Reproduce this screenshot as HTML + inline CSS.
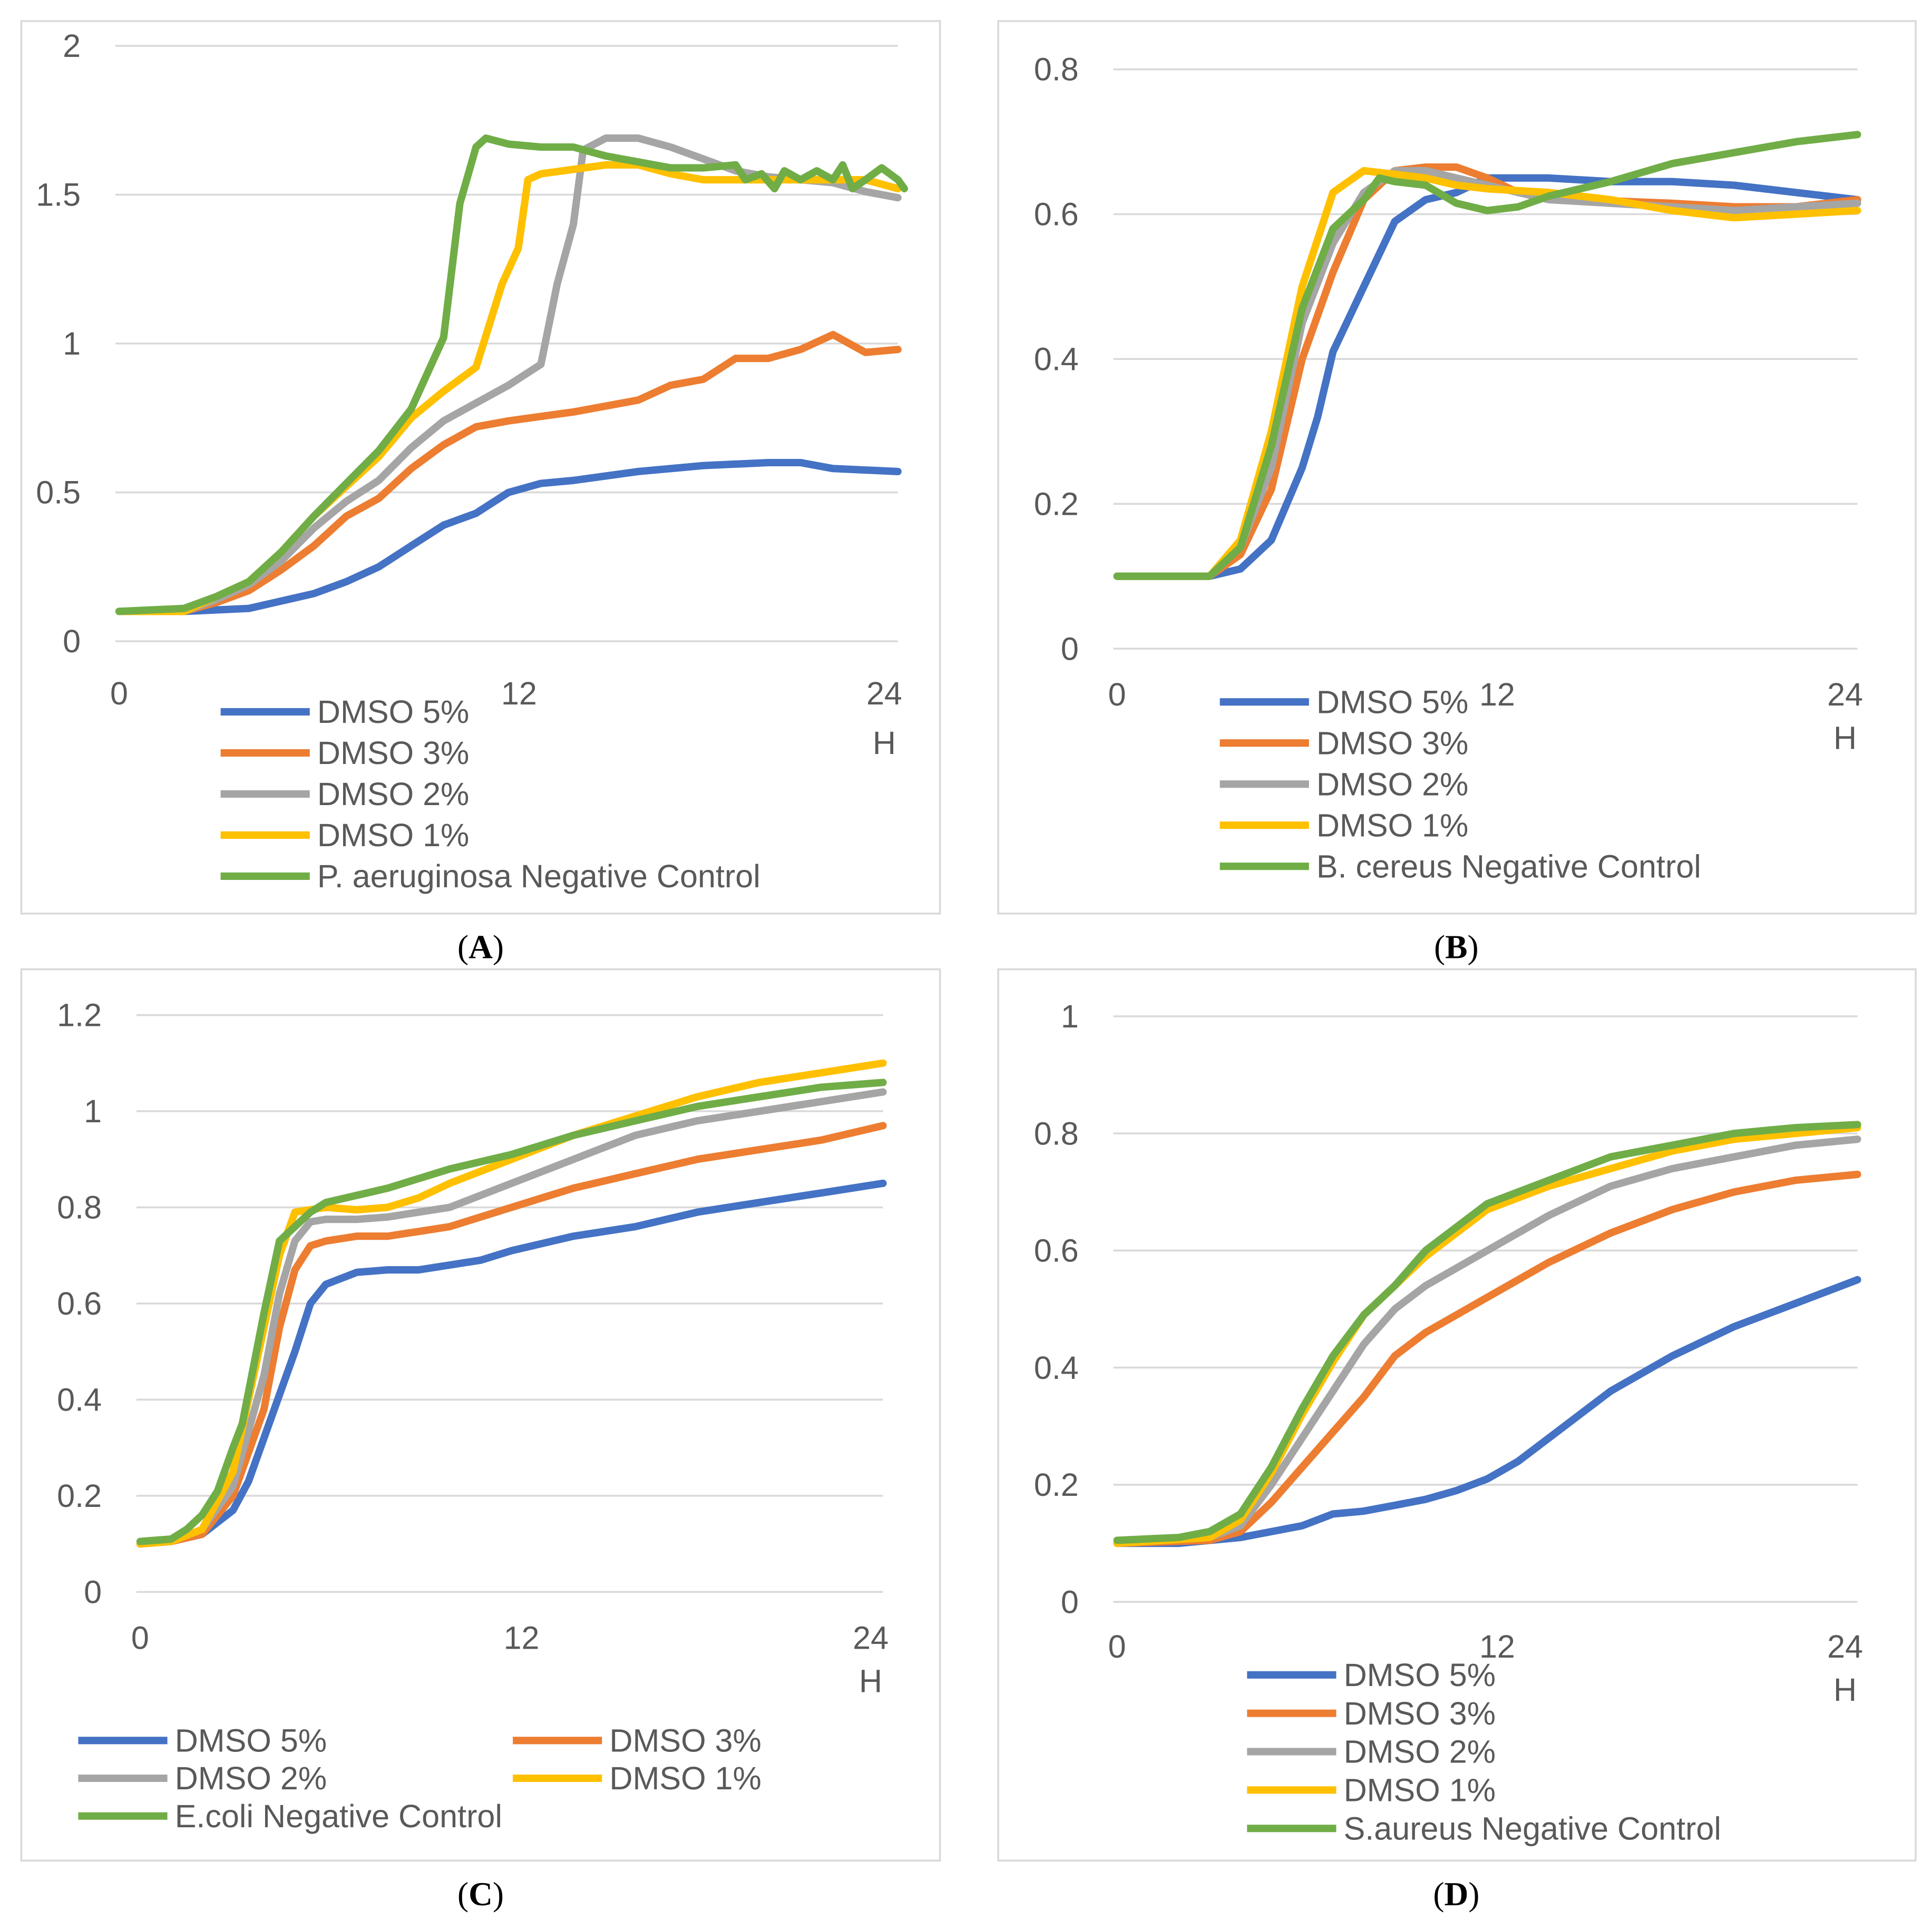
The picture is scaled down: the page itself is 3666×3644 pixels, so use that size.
<!DOCTYPE html>
<html><head><meta charset="utf-8"><style>
html,body{margin:0;padding:0;background:#fff}
svg{display:block}
text{font-family:"Liberation Sans",sans-serif;fill:#595959}
</style></head><body>
<svg id="s" width="3666" height="3644" viewBox="0 0 1560 1551" xmlns="http://www.w3.org/2000/svg"></svg>
<script>
const colors=["#4472C4","#ED7D31","#A5A5A5","#FFC000","#70AD47"];
const seriesNames=["DMSO 5%","DMSO 3%","DMSO 2%","DMSO 1%"];
const xTicks=[0,12,24];
// Panel A
const aYTicks=[0,0.5,1,1.5,2];
const aT5=[0,2,4,6,7,8,9,10,11,12,13,14,16,18,20,21,22,24];
const aV5=[.1,.1,.11,.16,.2,.25,.32,.39,.43,.5,.53,.54,.57,.59,.6,.6,.58,.57];
const aT3=[0,2,3,4,5,6,7,8,9,10,11,12,14,16,17,18,19,20,21,22,23,24];
const aV3=[.1,.1,.13,.17,.24,.32,.42,.48,.58,.66,.72,.74,.77,.81,.86,.88,.95,.95,.98,1.03,.97,.98];
const aT2=[0,2,3,4,5,6,7,8,9,10,11,12,13,13.5,14,14.3,15,16,17,18,19,20,21,22,23,24];
const aV2=[.1,.1,.14,.19,.27,.38,.47,.54,.65,.74,.8,.86,.93,1.2,1.4,1.65,1.69,1.69,1.66,1.62,1.58,1.56,1.55,1.54,1.51,1.49];
const aT1=[0,2,3,4,5,6,7,8,9,10,11,11.8,12.3,12.6,13,15,16,17,18,20,22,23,24];
const aV1=[.1,.1,.15,.2,.3,.42,.52,.62,.75,.84,.92,1.2,1.32,1.55,1.57,1.6,1.6,1.57,1.55,1.55,1.55,1.55,1.52];
const aTc=[0,2,3,4,5,6,7,8,9,9.5,10,10.5,11,11.3,12,13,14,15,16,17,18,19,19.3,19.8,20.2,20.5,21,21.5,22,22.3,22.6,23,23.5,24,24.2];
const aVc=[.1,.11,.15,.2,.3,.42,.53,.64,.78,.9,1.02,1.47,1.66,1.69,1.67,1.66,1.66,1.63,1.61,1.59,1.59,1.6,1.55,1.57,1.52,1.58,1.55,1.58,1.55,1.6,1.52,1.55,1.59,1.55,1.52];
// Panel B
const bYTicks=[0,0.2,0.4,0.6,0.8];
const bT5=[0,3,4,5,6,6.5,7,8,9,10,11,12,14,16,18,20,22,24];
const bV5=[.1,.1,.11,.15,.25,.32,.41,.5,.59,.62,.63,.65,.65,.645,.645,.64,.63,.62];
const bT3=[0,3,4,5,6,7,8,9,10,11,12,13,15,18,20,22,24];
const bV3=[.1,.1,.13,.22,.4,.52,.62,.66,.665,.665,.65,.63,.62,.615,.61,.61,.62];
const bT2=[0,3,4,5,6,7,8,9,10,11,12,14,16,18,20,22,24];
const bV2=[.1,.1,.14,.25,.45,.56,.63,.66,.66,.65,.64,.62,.615,.61,.605,.61,.615];
const bT1=[0,3,4,5,6,7,8,9,10,11,12,14,16,18,20,22,24];
const bV1=[.1,.1,.15,.3,.5,.63,.66,.655,.65,.64,.635,.63,.62,.605,.595,.6,.605];
const bTc=[0,3,4,5,6,7,8,8.5,9,10,11,12,13,14,16,18,20,22,24];
const bVc=[.1,.1,.14,.28,.47,.58,.62,.65,.645,.64,.615,.605,.61,.625,.645,.67,.685,.7,.71];
// Panel C
const cYTicks=[0,0.2,0.4,0.6,0.8,1,1.2];
const cT5=[0,1,2,3,3.5,4,5,5.5,6,7,8,9,10,11,12,14,16,18,20,22,24];
const cV5=[.1,.105,.12,.17,.23,.32,.5,.6,.64,.665,.67,.67,.68,.69,.71,.74,.76,.79,.81,.83,.85];
const cT3=[0,1,2,3,4,4.5,5,5.5,6,7,8,9,10,12,14,16,18,20,22,24];
const cV3=[.1,.105,.12,.2,.38,.55,.67,.72,.73,.74,.74,.75,.76,.8,.84,.87,.9,.92,.94,.97];
const cT2=[0,1,2,3,4,4.5,5,5.5,6,7,8,9,10,12,14,16,18,20,22,24];
const cV2=[.1,.105,.13,.22,.45,.62,.73,.77,.775,.775,.78,.79,.8,.85,.9,.95,.98,1.0,1.02,1.04];
const cT1=[0,1,2,3,4,4.5,5,6,7,8,9,10,12,14,16,18,20,22,24];
const cV1=[.1,.105,.13,.25,.55,.7,.79,.8,.795,.8,.82,.85,.9,.95,.99,1.03,1.06,1.08,1.1];
const cTc=[0,1,1.5,2,2.5,3,3.3,4,4.5,5,5.5,6,8,10,12,14,16,18,20,22,24];
const cVc=[.105,.11,.13,.16,.21,.3,.35,.58,.73,.76,.79,.81,.84,.88,.91,.95,.98,1.01,1.03,1.05,1.06];
// Panel D
const dYTicks=[0,0.2,0.4,0.6,0.8,1];
const dT5=[0,2,4,6,7,8,9,10,11,12,13,14,15,16,18,20,22,24];
const dV5=[.1,.1,.11,.13,.15,.155,.165,.175,.19,.21,.24,.28,.32,.36,.42,.47,.51,.55];
const dT3=[0,3,4,5,6,7,8,9,10,11,12,14,16,18,20,22,24];
const dV3=[.1,.105,.12,.17,.23,.29,.35,.42,.46,.49,.52,.58,.63,.67,.7,.72,.73];
const dT2=[0,3,4,5,6,7,8,9,10,11,12,14,16,18,20,22,24];
const dV2=[.1,.11,.13,.2,.28,.36,.44,.5,.54,.57,.6,.66,.71,.74,.76,.78,.79];
const dT1=[0,3,4,5,6,7,8,9,10,11,12,14,16,18,20,22,24];
const dV1=[.1,.11,.14,.22,.32,.41,.49,.54,.59,.63,.67,.71,.74,.77,.79,.8,.81];
const dTc=[0,2,3,4,5,6,7,8,9,10,11,12,14,16,18,20,22,24];
const dVc=[.105,.11,.12,.15,.23,.33,.42,.49,.54,.6,.64,.68,.72,.76,.78,.8,.81,.815];

const NS="http://www.w3.org/2000/svg";
const svg=document.getElementById('s');
function mk(tag,attrs,parent,txt){const e=document.createElementNS(NS,tag);for(const k in attrs)e.setAttribute(k,attrs[k]);if(txt!==undefined)e.textContent=txt;(parent||svg).appendChild(e);return e;}

const panels=[
 {id:'a',box:[17,17,742,721],x0:96,x1:725,y0:518,y1:37,ymax:2,yt:aYTicks,gx0:93,
  data:[[aT5,aV5],[aT3,aV3],[aT2,aV2],[aT1,aV1],[aTc,aVc]],ctrl:"P. aeruginosa Negative Control",
  leg:{type:'col',x:178,y:575,dy:33.2},H:[714,609],xl:[96,419,714],xly:569,cap:'A',capx:388,capy:774},
 {id:'b',box:[806,17,741,721],x0:902,x1:1500,y0:524,y1:56,ymax:0.8,yt:bYTicks,gx0:899,
  data:[[bT5,bV5],[bT3,bV3],[bT2,bV2],[bT1,bV1],[bTc,bVc]],ctrl:"B. cereus Negative Control",
  leg:{type:'col',x:985,y:567,dy:33.2},H:[1490,605],xl:[902,1209,1490],xly:570,cap:'B',capx:1176,capy:774},
 {id:'c',box:[17,783,742,720],x0:113,x1:713,y0:1286,y1:820,ymax:1.2,yt:cYTicks,gx0:110,
  data:[[cT5,cV5],[cT3,cV3],[cT2,cV2],[cT1,cV1],[cTc,cVc]],ctrl:"E.coli Negative Control",
  leg:{type:'grid',x:63,x2:414,y:1406,dy:30.5},H:[703,1367],xl:[113,421,703],xly:1332,cap:'C',capx:388,capy:1539},
 {id:'d',box:[806,783,741,720],x0:902,x1:1500,y0:1294,y1:821,ymax:1,yt:dYTicks,gx0:899,
  data:[[dT5,dV5],[dT3,dV3],[dT2,dV2],[dT1,dV1],[dTc,dVc]],ctrl:"S.aureus Negative Control",
  leg:{type:'col',x:1007,y:1353,dy:31},H:[1490,1374],xl:[902,1209,1490],xly:1339,cap:'D',capx:1176,capy:1539}
];

panels.forEach(p=>{
 const g=mk('g',{});
 
 
 const r=mk('rect',{x:p.box[0],y:p.box[1],width:p.box[2],height:p.box[3],fill:'#fff',stroke:'#d9d9d9','stroke-width':1.5},g);
 
 
 const X=t=>p.x0+t*(p.x1-p.x0)/24;
 const Y=v=>p.y0-v*(p.y0-p.y1)/p.ymax;
 p.yt.forEach(v=>{
  const l=mk('line',{x1:p.gx0,x2:p.x1,y1:Y(v),y2:Y(v),stroke:'#d9d9d9','stroke-width':1.5},g);
  
  
  const t=mk('text',{x:p.gx0-28,y:Y(v)+9,'text-anchor':'end','font-size':26},g,String(v));
  
  
 });
 xTicks.forEach((v,i)=>{
  const t=mk('text',{x:p.xl[i],y:p.xly,'text-anchor':'middle','font-size':26},g,String(v));
  
  
 });
 const h=mk('text',{x:p.H[0],y:p.H[1],'text-anchor':'middle','font-size':26},g,'H');
 
 
 p.data.forEach((d,i)=>{
  const pts=d[0].map((t,k)=>X(t).toFixed(1)+','+Y(d[1][k]).toFixed(1)).join(' ');
  const pl=mk('polyline',{points:pts,fill:'none',stroke:colors[i],'stroke-width':6,'stroke-linejoin':'round','stroke-linecap':'round'},g);
  
  
 });
 const names=seriesNames.concat([p.ctrl]);
 names.forEach((n,i)=>{
  let lx,ly;
  if(p.leg.type==='col'){lx=p.leg.x;ly=p.leg.y+i*p.leg.dy;}
  else{lx=(i%2===0||i===4)?p.leg.x:p.leg.x2;ly=p.leg.y+Math.floor(i/2)*p.leg.dy;}
  const lg=mk('g',{},g);
  
  
  mk('line',{x1:lx,x2:lx+72,y1:ly,y2:ly,stroke:colors[i],'stroke-width':6},lg);
  mk('text',{x:lx+78,y:ly+9,'font-size':26},lg,n);
 });
 const c=mk('text',{x:p.capx,y:p.capy,'text-anchor':'middle','font-size':27,style:'font-family:"Liberation Serif",serif;fill:#000'},svg);
 
 
 c.innerHTML='(<tspan font-weight="bold">'+p.cap+'</tspan>)';
});
</script>
</body></html>
